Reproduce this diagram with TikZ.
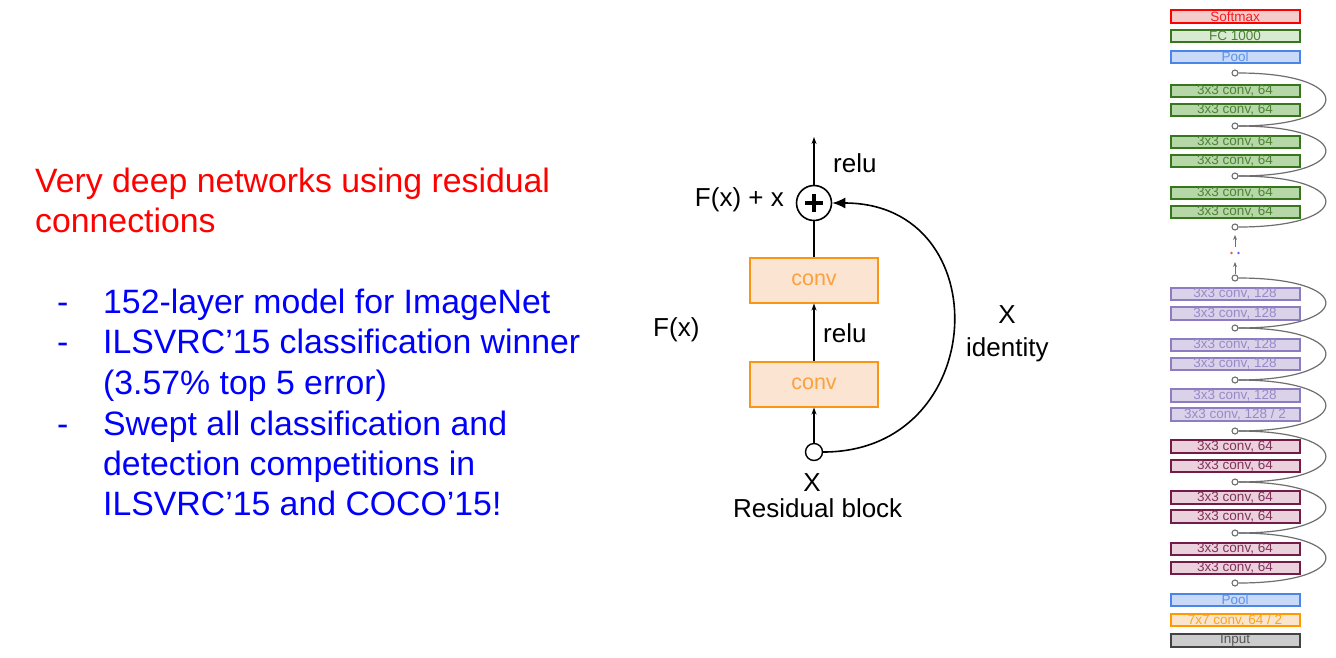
\documentclass[tikz,border=0pt]{standalone}
\usepackage{fontspec}
\setmainfont{Liberation Sans}
\usepackage{tikz}
\usetikzlibrary{arrows.meta,positioning,backgrounds}
\definecolor{softedge}{RGB}{255,0,0}
\definecolor{softfill}{RGB}{244,204,204}
\definecolor{fcedge}{RGB}{56,118,29}
\definecolor{fcfill}{RGB}{217,234,211}
\definecolor{pooledge}{RGB}{74,134,232}
\definecolor{poolfill}{RGB}{201,218,248}
\definecolor{greenedge}{RGB}{56,118,29}
\definecolor{greenfill}{RGB}{182,215,168}
\definecolor{purpedge}{RGB}{142,124,195}
\definecolor{purpfill}{RGB}{217,210,233}
\definecolor{maroonedge}{RGB}{116,27,71}
\definecolor{maroonfill}{RGB}{234,209,220}
\definecolor{stemedge}{RGB}{255,153,0}
\definecolor{stemfill}{RGB}{252,229,205}
\definecolor{inputedge}{RGB}{67,67,67}
\definecolor{inputfill}{RGB}{204,204,204}
\definecolor{blockedge}{RGB}{250,150,20}
\definecolor{blockfill}{RGB}{252,228,210}
\definecolor{blocktext}{RGB}{250,160,60}
\definecolor{skipgrey}{RGB}{110,110,110}
\tikzset{
  title/.style={font=\fontsize{33.8}{40}\selectfont, text=red, anchor=base west, inner sep=0pt},
  point/.style={font=\fontsize{33.8}{40}\selectfont, text=blue, anchor=base west, inner sep=0pt},
  lbl/.style={font=\fontsize{26}{30}\selectfont, anchor=base west, inner sep=0pt},
  layer/.style={rectangle, draw=#1edge, fill=#1fill, text=#1edge!90, line width=2pt,
    minimum width=129pt, minimum height=12.5pt, inner sep=0pt, font=\fontsize{13.5}{14}\selectfont},
  joint/.style={circle, draw=skipgrey, fill=white, line width=1.1pt, minimum size=6pt, inner sep=0pt},
  skip/.style={draw=skipgrey, line width=1.2pt},
  stem/.style={draw=skipgrey, line width=0.9pt},
  stemarr/.style={stem, -{Stealth[length=5pt,width=4pt]}},
  convbox/.style={rectangle, draw=blockedge, fill=blockfill, text=blocktext, line width=2pt,
    minimum width=128pt, minimum height=45pt, font=\fontsize{21.5}{24}\selectfont},
  sumnode/.style={circle, draw, line width=1.6pt, minimum size=35pt, inner sep=0pt},
  innode/.style={circle, draw, line width=1.4pt, minimum size=17pt, inner sep=0pt},
  arr/.style={-{Stealth[length=7pt,width=5pt]}, line width=1.2pt},
  idarr/.style={-{Latex[length=13pt,width=11pt]}, line width=1.6pt},
}
\begin{document}
\begin{tikzpicture}[x=1pt,y=-1pt]
  \fill[white] (0,0) rectangle (1336,657);
  \useasboundingbox (0,0) rectangle (1336,657);
  % left text
  \node[title] (t1) at (35,192) {Very deep networks using residual};
  \node[title] (t2) at (35,232) {connections};
  \node[point] (d1) at (57,313) {-};
  \node[point] (b1) at (103,313) {152-layer model for ImageNet};
  \node[point] (d2) at (57,353) {-};
  \node[point] (b2) at (103,353) {ILSVRC’15 classification winner};
  \node[point] (b2b) at (103,394) {(3.57\% top 5 error)};
  \node[point] (d3) at (57,435) {-};
  \node[point] (b3) at (103,435) {Swept all classification and};
  \node[point] (b3b) at (103,475) {detection competitions in};
  \node[point] (b3c) at (103,515) {ILSVRC’15 and COCO’15!};
  % residual block
  \node[sumnode] (sum) at (814,203) {};
  \draw[line width=3.2pt] ([xshift=-9pt]sum.center) -- ([xshift=9pt]sum.center);
  \draw[line width=3.2pt] ([yshift=-9pt]sum.center) -- ([yshift=9pt]sum.center);
  \node[convbox] (conv2) at (814,280) {conv};
  \node[convbox] (conv1) at (814,384) {conv};
  \node[innode] (xin) at (814,452) {};
  \coordinate (out) at (814,137);
  \draw[arr] (sum) -- (out);
  \draw[line width=1.2pt] (conv2) -- (sum);
  \draw[arr] (conv1) -- (conv2);
  \draw[arr] (xin) -- (conv1);
  \draw[idarr] (xin.east) .. controls +(167,0) and +(167,0) .. (sum.east);
  \node[lbl] (relu2) at (833,172) {relu};
  \node[lbl,anchor=base east] (fsum) at (784,206) {F(x) + x};
  \node[lbl] (relu1) at (823,342) {relu};
  \node[lbl] (fx) at (653,336) {F(x)};
  \node[lbl,anchor=base] (xid) at (1007,323) {X};
  \node[lbl] (ident) at (966,356) {identity};
  \node[lbl,anchor=base] (xlbl) at (812,491) {X};
  \node[lbl] (rb) at (733,517) {Residual block};
  % network column
  \node[layer=soft] (soft) at (1235,16.5) {Softmax};
  \node[layer=fc] (fc) at (1235,36) {FC 1000};
  \node[layer=pool] (pooltop) at (1235,57) {Pool};
  \node[joint] (sk1) at (1235,73) {};
  \node[layer=green] (g1a) at (1235,91) {3x3 conv, 64};
  \node[layer=green] (g1b) at (1235,110) {3x3 conv, 64};
  \node[joint] (sk2) at (1235,126) {};
  \node[layer=green] (g2a) at (1235,142) {3x3 conv, 64};
  \node[layer=green] (g2b) at (1235,161) {3x3 conv, 64};
  \node[joint] (sk3) at (1235,176) {};
  \node[layer=green] (g3a) at (1235,193) {3x3 conv, 64};
  \node[layer=green] (g3b) at (1235,212) {3x3 conv, 64};
  \node[joint] (sk4) at (1235,227) {};
  \coordinate (up1) at (1235,235);
  \coordinate (lo1) at (1235,247);
  \fill[red!70] (1231.5,253) circle (1.3pt) coordinate (dotr);
  \fill[blue!60] (1238.5,253) circle (1.3pt) coordinate (dotb);
  \coordinate (up2) at (1235,262);
  \node[joint] (sk5) at (1235,278) {};
  \node[layer=purp] (p1a) at (1235,294) {3x3 conv, 128};
  \node[layer=purp] (p1b) at (1235,313.5) {3x3 conv, 128};
  \node[joint] (sk6) at (1235,328) {};
  \node[layer=purp] (p2a) at (1235,345) {3x3 conv, 128};
  \node[layer=purp] (p2b) at (1235,364) {3x3 conv, 128};
  \node[joint] (sk7) at (1235,380) {};
  \node[layer=purp] (p3a) at (1235,395.5) {3x3 conv, 128};
  \node[layer=purp] (p3b) at (1235,414.5) {3x3 conv, 128 / 2};
  \node[joint] (sk8) at (1235,431) {};
  \node[layer=maroon] (m1a) at (1235,446.5) {3x3 conv, 64};
  \node[layer=maroon] (m1b) at (1235,466) {3x3 conv, 64};
  \node[joint] (sk9) at (1235,482) {};
  \node[layer=maroon] (m2a) at (1235,497.5) {3x3 conv, 64};
  \node[layer=maroon] (m2b) at (1235,516.5) {3x3 conv, 64};
  \node[joint] (sk10) at (1235,533) {};
  \node[layer=maroon] (m3a) at (1235,549) {3x3 conv, 64};
  \node[layer=maroon] (m3b) at (1235,568) {3x3 conv, 64};
  \node[joint] (sk11) at (1235,583) {};
  \node[layer=pool] (poolbot) at (1235,600) {Pool};
  \node[layer=stem] (stemconv) at (1235,620) {7x7 conv, 64 / 2};
  \node[layer=input] (input) at (1235,640.5) {Input};
  \begin{scope}[on background layer]
    \draw[stem] (pooltop) -- (sk4);
    \draw[stem] (sk5) -- (poolbot);
  \end{scope}
  \draw[stemarr] (lo1) -- (up1);
  \draw[stemarr] (sk5) -- (up2);
  \foreach \a/\b in {sk1/sk2,sk2/sk3,sk3/sk4,sk5/sk6,sk6/sk7,sk7/sk8,sk8/sk9,sk9/sk10,sk10/sk11}
    \draw[skip] (\b) .. controls +(120,0) and +(120,0) .. (\a);
\end{tikzpicture}
\end{document}
